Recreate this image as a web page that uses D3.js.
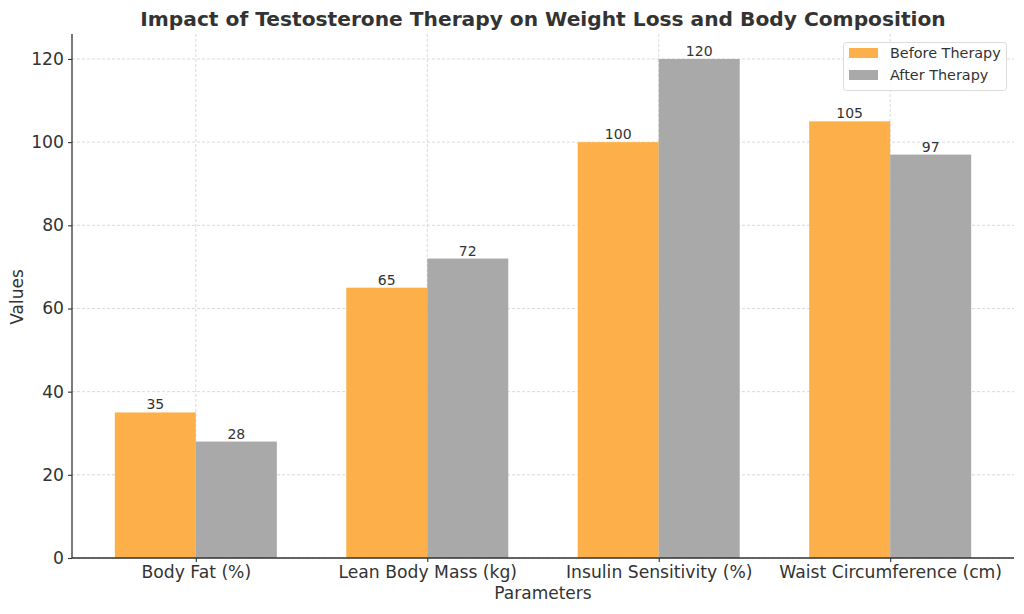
<!DOCTYPE html>
<html><head><meta charset="utf-8">
<script src="https://cdn.jsdelivr.net/npm/d3@7"></script>
<style>body{margin:0;background:#fff}svg{display:block;font-family:"DejaVu Sans",sans-serif}</style>
</head><body><svg id="c" width="1024" height="614"></svg>
<script>
const categories = ["Body Fat (%)", "Lean Body Mass (kg)", "Insulin Sensitivity (%)", "Waist Circumference (cm)"];
const beforeValues = [35, 65, 100, 105];
const afterValues = [28, 72, 120, 97];
const seriesNames = ["Before Therapy", "After Therapy"];
const yTicks = [0, 20, 40, 60, 80, 100, 120];

const svg = d3.select("#c");
const L = 72, R = 1014, T = 34, B = 558;
const colors = ["#FDB04A", "#A9A9A9"];
const txt = "#333333";

const x = d3.scaleLinear().domain([-0.535, 3.535]).range([L, R]);
const y = d3.scaleLinear().domain([0, 126]).range([B, T]);
const bw = 0.35;

// grid
const g = svg.append("g");
g.selectAll("line.gy").data(yTicks).join("line")
  .attr("x1", L).attr("x2", R).attr("y1", d => y(d)).attr("y2", d => y(d))
  .attr("stroke", "#d0d0d0").attr("stroke-width", 0.8).attr("stroke-dasharray", "3,2");
g.selectAll("line.gx").data(categories).join("line")
  .attr("x1", (d,i) => x(i)).attr("x2", (d,i) => x(i)).attr("y1", T).attr("y2", B)
  .attr("stroke", "#d0d0d0").attr("stroke-width", 0.8).attr("stroke-dasharray", "3,2");

const series = [beforeValues, afterValues];
series.forEach((vals, s) => {
  const off = s === 0 ? -bw : 0;
  svg.append("g").selectAll("rect").data(vals).join("rect")
    .attr("x", (d,i) => x(i + off)).attr("width", (d,i) => x(i + off + bw) - x(i + off))
    .attr("y", d => y(d)).attr("height", d => B - y(d)).attr("fill", colors[s]);
  svg.append("g").selectAll("text").data(vals).join("text")
    .attr("x", (d,i) => x(i + off + bw/2)).attr("y", d => y(d) - 3)
    .attr("text-anchor", "middle").attr("font-size", 14).attr("fill", txt).text(d => d);
});

// axes
const yAxis = d3.axisLeft(y).tickValues(yTicks).tickSize(4).tickPadding(4);
const ya = svg.append("g").attr("transform", `translate(${L},0)`).call(yAxis);
const xAxis = d3.axisBottom(x).tickValues([0,1,2,3]).tickFormat(i => categories[i]).tickSize(4).tickPadding(4);
const xa = svg.append("g").attr("transform", `translate(0,${B})`).call(xAxis);
[ya, xa].forEach(a => {
  a.select(".domain").attr("stroke", "#333").attr("stroke-width", 1.3);
  a.selectAll(".tick line").attr("stroke", "#333").attr("stroke-width", 1.1);
  a.selectAll(".tick text").attr("fill", txt).attr("font-size", 17.2).attr("font-family", "DejaVu Sans");
});
ya.select(".domain").attr("d", `M0,${B}V${T}`);
xa.select(".domain").attr("d", `M${L},0H${R}`);

// labels
svg.append("text").attr("x", 543).attr("y", 26).attr("text-anchor", "middle")
  .attr("font-size", 20.2).attr("font-weight", "bold").attr("fill", txt)
  .text("Impact of Testosterone Therapy on Weight Loss and Body Composition");
svg.append("text").attr("x", 543).attr("y", 599).attr("text-anchor", "middle")
  .attr("font-size", 17).attr("fill", txt).text("Parameters");
svg.append("text").attr("transform", "translate(23,297) rotate(-90)").attr("text-anchor", "middle")
  .attr("font-size", 17).attr("fill", txt).text("Values");

// legend
const lg = svg.append("g");
lg.append("rect").attr("x", 843.5).attr("y", 42.5).attr("width", 163).attr("height", 48).attr("rx", 3)
  .attr("fill", "#fff").attr("fill-opacity", 0.8).attr("stroke", "#dcdcdc");
seriesNames.forEach((n, i) => {
  lg.append("rect").attr("x", 849).attr("y", 48 + i*22).attr("width", 29).attr("height", 10).attr("fill", colors[i]);
  lg.append("text").attr("x", 890).attr("y", 58 + i*22).attr("font-size", 14.4).attr("fill", txt).text(n);
});
</script></body></html>
